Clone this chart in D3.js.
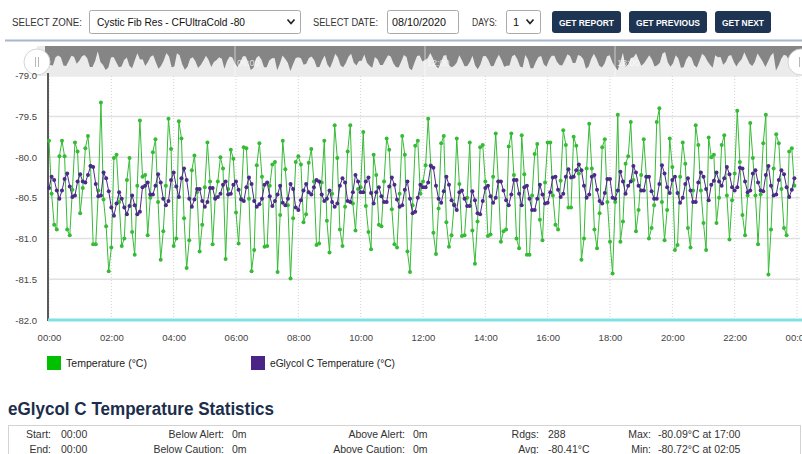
<!DOCTYPE html>
<html>
<head>
<meta charset="utf-8">
<script src="https://cdn.jsdelivr.net/npm/d3@7"></script>
<style>
  body { margin: 0; background: #fff; overflow: hidden; }
  svg { display: block; font-family: 'Liberation Sans', Arial, sans-serif; }
</style>
</head>
<body>
<svg id="page" width="802" height="454"></svg>
<script>
// readings every 5 minutes, 08/10/2020 00:00 -> 23:55 (one row = one hour)
var tempValues = [
  -79.80,-80.45,-80.83,-80.89,-79.99,-79.80,-79.99,-80.89,-80.96,-80.40,-79.82,-79.93,
  -80.69,-80.38,-79.89,-79.74,-80.11,-81.07,-81.07,-80.41,-79.33,-80.52,-80.85,-81.40,
  -81.11,-80.01,-79.97,-80.55,-81.09,-81.00,-80.28,-80.01,-80.92,-81.20,-80.35,-79.55,
  -80.24,-80.22,-80.96,-80.50,-79.94,-79.78,-80.55,-81.26,-80.91,-80.35,-79.53,-79.90,
  -81.09,-81.00,-79.56,-79.77,-80.75,-81.36,-81.02,-80.16,-79.98,-80.43,-81.16,-80.83,
  -80.37,-79.82,-80.30,-81.07,-80.50,-80.30,-80.00,-80.14,-81.25,-80.39,-79.91,-80.02,
  -80.68,-81.06,-80.51,-79.88,-79.89,-80.51,-81.40,-81.14,-80.10,-79.83,-80.24,-81.10,
  -81.09,-80.35,-80.09,-80.06,-81.41,-80.71,-79.80,-80.15,-80.59,-81.49,-80.75,-80.06,
  -79.99,-80.09,-80.80,-80.70,-80.07,-79.90,-80.30,-81.08,-81.06,-80.31,-79.80,-80.78,
  -81.17,-80.45,-79.61,-80.01,-80.89,-81.09,-80.61,-79.93,-79.61,-80.57,-80.90,-80.39,
  -80.37,-79.69,-80.60,-80.92,-81.13,-79.97,-80.22,-80.83,-80.85,-80.30,-79.77,-79.91,
  -80.64,-81.07,-81.11,-80.45,-79.74,-79.97,-81.16,-81.41,-80.59,-79.86,-79.80,-80.45,
  -80.30,-80.10,-79.53,-80.10,-80.93,-81.19,-80.63,-79.83,-79.74,-80.80,-81.10,-80.96,
  -80.58,-79.77,-80.33,-80.97,-80.96,-80.50,-79.82,-80.90,-81.31,-80.79,-79.88,-79.85,
  -80.30,-80.97,-80.95,-80.24,-79.71,-80.30,-81.04,-80.91,-80.89,-79.87,-79.71,-80.22,
  -81.00,-81.12,-79.73,-80.21,-81.20,-81.20,-80.47,-79.96,-79.84,-80.77,-81.02,-80.31,
  -79.82,-79.82,-80.47,-80.83,-80.89,-80.29,-79.67,-79.85,-80.62,-80.62,-79.75,-79.86,
  -80.20,-81.26,-81.00,-80.14,-79.59,-80.14,-80.89,-81.12,-80.69,-79.88,-79.78,-80.55,
  -81.04,-81.43,-80.55,-79.48,-81.04,-80.79,-80.08,-79.99,-79.57,-80.28,-80.91,-80.65,
  -80.22,-79.78,-80.24,-81.00,-80.87,-80.59,-79.57,-79.40,-80.55,-81.02,-80.65,-79.77,
  -80.12,-81.14,-81.08,-80.24,-79.82,-80.08,-80.87,-81.11,-80.41,-79.61,-79.85,-80.41,
  -80.81,-81.14,-79.76,-80.00,-79.97,-80.81,-80.50,-79.85,-79.73,-80.47,-81.01,-80.53,
  -80.20,-79.43,-80.06,-80.71,-80.96,-80.47,-79.58,-80.01,-80.47,-81.07,-80.46,-79.83,
  -79.48,-81.44,-80.89,-80.14,-79.72,-79.83,-80.39,-80.87,-80.96,-79.93,-79.89,-80.35
];

var glycolValues = [
  -80.38,-80.24,-80.28,-80.41,-80.51,-80.41,-80.27,-80.20,-80.36,-80.49,-80.47,-80.30,
  -80.21,-80.30,-80.31,-80.22,-80.11,-80.12,-80.33,-80.48,-80.47,-80.19,-80.26,-80.42,
  -80.62,-80.72,-80.57,-80.43,-80.51,-80.62,-80.70,-80.60,-80.47,-80.59,-80.70,-80.67,
  -80.37,-80.35,-80.31,-80.46,-80.46,-80.35,-80.21,-80.31,-80.51,-80.59,-80.54,-80.28,
  -80.19,-80.36,-80.49,-80.26,-80.14,-80.28,-80.51,-80.61,-80.52,-80.39,-80.39,-80.54,
  -80.61,-80.55,-80.38,-80.38,-80.51,-80.49,-80.45,-80.34,-80.30,-80.46,-80.45,-80.34,
  -80.30,-80.40,-80.52,-80.54,-80.37,-80.25,-80.33,-80.54,-80.61,-80.58,-80.51,-80.34,
  -80.31,-80.48,-80.60,-80.54,-80.46,-80.35,-80.56,-80.59,-80.51,-80.33,-80.39,-80.62,
  -80.65,-80.53,-80.41,-80.33,-80.43,-80.46,-80.37,-80.28,-80.30,-80.46,-80.54,-80.51,
  -80.41,-80.55,-80.61,-80.57,-80.35,-80.26,-80.31,-80.54,-80.55,-80.43,-80.22,-80.30,
  -80.43,-80.43,-80.30,-80.25,-80.44,-80.57,-80.43,-80.37,-80.48,-80.55,-80.55,-80.36,
  -80.25,-80.34,-80.52,-80.61,-80.59,-80.40,-80.30,-80.51,-80.69,-80.67,-80.50,-80.34,
  -80.37,-80.37,-80.31,-80.11,-80.13,-80.35,-80.51,-80.56,-80.42,-80.24,-80.34,-80.53,
  -80.59,-80.65,-80.43,-80.41,-80.51,-80.60,-80.60,-80.42,-80.53,-80.69,-80.70,-80.54,
  -80.38,-80.35,-80.48,-80.56,-80.50,-80.30,-80.30,-80.41,-80.53,-80.59,-80.46,-80.28,
  -80.28,-80.45,-80.59,-80.37,-80.35,-80.51,-80.65,-80.65,-80.51,-80.34,-80.46,-80.57,
  -80.56,-80.43,-80.25,-80.24,-80.40,-80.49,-80.45,-80.24,-80.15,-80.25,-80.24,-80.16,
  -80.09,-80.16,-80.35,-80.50,-80.46,-80.24,-80.22,-80.40,-80.54,-80.57,-80.44,-80.27,
  -80.27,-80.50,-80.51,-80.41,-80.18,-80.30,-80.45,-80.35,-80.30,-80.11,-80.19,-80.35,
  -80.41,-80.41,-80.24,-80.24,-80.42,-80.51,-80.51,-80.33,-80.10,-80.20,-80.37,-80.44,
  -80.28,-80.24,-80.44,-80.56,-80.50,-80.33,-80.26,-80.41,-80.55,-80.55,-80.31,-80.19,
  -80.24,-80.39,-80.53,-80.34,-80.29,-80.19,-80.30,-80.35,-80.26,-80.12,-80.21,-80.37,
  -80.41,-80.37,-80.13,-80.14,-80.30,-80.43,-80.41,-80.20,-80.16,-80.31,-80.41,-80.42,
  -80.22,-80.11,-80.35,-80.47,-80.46,-80.28,-80.16,-80.21,-80.37,-80.49,-80.40,-80.26
];

var yTicks = [-79.0, -79.5, -80.0, -80.5, -81.0, -81.5, -82.0];
var cautionLevel = -82.0;
var seriesNames = ['Temperature (°C)', 'eGlycol C Temperature (°C)'];
var seriesColors = ['#36bb36', '#4b2a88'];
var navLabels = ['06:00', '12:00', '18:00'];

var statLabels = [['Start:', 'End:'], ['Below Alert:', 'Below Caution:'], ['Above Alert:', 'Above Caution:'], ['Rdgs:', 'Avg:'], ['Max:', 'Min:']];
var statValues = [['00:00', '00:00'], ['0m', '0m'], ['0m', '0m'], ['288', '-80.41°C'], ['-80.09°C at 17:00', '-80.72°C at 02:05']];

var svg = d3.select('#page');

var t0 = new Date(2020, 7, 10, 0, 0);
var t1 = new Date(2020, 7, 11, 0, 0);
var timeAt = function (i) { return d3.timeMinute.offset(t0, i * 5); };

// ---------- top bar ----------
var bar = svg.append('g');

function label(g, x, txt, len) {
  g.append('text').attr('x', x).attr('y', 25.5)
    .attr('font-size', 10).attr('fill', '#333')
    .attr('textLength', len).attr('lengthAdjust', 'spacingAndGlyphs')
    .text(txt);
}
function box(g, x, w) {
  g.append('rect').attr('x', x + 0.5).attr('y', 10.5).attr('width', w).attr('height', 23)
    .attr('rx', 2).attr('fill', '#fff').attr('stroke', '#a9a9a9');
}
function chevron(g, x) {
  g.append('path').attr('d', 'M' + (x - 3.5) + ',19.5 L' + x + ',23.5 L' + (x + 3.5) + ',19.5')
    .attr('fill', 'none').attr('stroke', '#222').attr('stroke-width', 1.7);
}

label(bar, 12, 'SELECT ZONE:', 70);
box(bar, 89, 211);
bar.append('text').attr('x', 97).attr('y', 26).attr('font-size', 11).attr('fill', '#111')
  .attr('textLength', 148).attr('lengthAdjust', 'spacingAndGlyphs')
  .text('Cystic Fib Res - CFUltraCold -80');
chevron(bar, 291);

label(bar, 313, 'SELECT DATE:', 65);
box(bar, 387, 71);
bar.append('text').attr('x', 392).attr('y', 26).attr('font-size', 11).attr('fill', '#111')
  .attr('textLength', 54).attr('lengthAdjust', 'spacingAndGlyphs').text('08/10/2020');

label(bar, 472, 'DAYS:', 25);
box(bar, 506, 34);
bar.append('text').attr('x', 513).attr('y', 26).attr('font-size', 11).attr('fill', '#111').text('1');
chevron(bar, 530);

var buttons = [
  {x: 552, w: 69, t: 'GET REPORT', len: 55},
  {x: 629, w: 78, t: 'GET PREVIOUS', len: 64},
  {x: 715, w: 56, t: 'GET NEXT', len: 42}
];
buttons.forEach(function (b) {
  bar.append('rect').attr('x', b.x).attr('y', 11).attr('width', b.w).attr('height', 22)
    .attr('rx', 3).attr('fill', '#1d3552');
  bar.append('text').attr('x', b.x + b.w / 2).attr('y', 25.5).attr('text-anchor', 'middle')
    .attr('font-size', 9.5).attr('font-weight', 'bold').attr('fill', '#fff')
    .attr('textLength', b.len).attr('lengthAdjust', 'spacingAndGlyphs').text(b.t);
});

svg.append('line').attr('x1', 5).attr('x2', 802).attr('y1', 40.5).attr('y2', 40.5)
  .attr('stroke', '#a6b8cc').attr('stroke-width', 2);

// ---------- main scales ----------
var x = d3.scaleTime().domain([t0, t1]).range([49, 797]);
var y = d3.scaleLinear().domain([-82, -79]).range([320, 75.7]);

// gridlines
svg.append('g').selectAll('line')
  .data(yTicks.filter(function (d) { return d !== cautionLevel; }))
  .enter().append('line')
  .attr('x1', 49).attr('x2', 800)
  .attr('y1', function (d) { return y(d); }).attr('y2', function (d) { return y(d); })
  .attr('stroke', '#e1e1e1').attr('stroke-width', 1.5);

var hourTicks = d3.timeHour.every(2).range(t0, d3.timeMinute.offset(t1, 1));
svg.append('g').selectAll('line')
  .data(hourTicks)
  .enter().append('line')
  .attr('x1', function (d) { return x(d); }).attr('x2', function (d) { return x(d); })
  .attr('y1', 76).attr('y2', 320)
  .attr('stroke', '#d2d2d2').attr('stroke-dasharray', '1,2');

// ---------- navigator ----------
var nav = svg.append('g');
nav.append('rect').attr('x', 37).attr('y', 46).attr('width', 765).attr('height', 30).attr('fill', '#ebebeb');

var navX = d3.scaleTime().domain([t0, t1]).range([45, 805]);
var navY = d3.scaleLinear().domain([-81.5, -79.3]).range([71, 51]);
var navArea = d3.area()
  .x(function (d, i) { return navX(timeAt(i)); })
  .y0(46)
  .y1(function (d) { return navY(d); });
nav.append('path').datum(tempValues).attr('d', navArea).attr('fill', '#858585');

nav.selectAll('.navtick').data(navLabels).enter().append('line')
  .attr('x1', function (d, i) { return navX(d3.timeHour.offset(t0, 6 * (i + 1))); })
  .attr('x2', function (d, i) { return navX(d3.timeHour.offset(t0, 6 * (i + 1))); })
  .attr('y1', 46).attr('y2', 76).attr('stroke', '#fff').attr('stroke-opacity', 0.6);
nav.selectAll('.navlabel').data(navLabels).enter().append('text')
  .attr('x', function (d, i) { return navX(d3.timeHour.offset(t0, 6 * (i + 1))) + 2; })
  .attr('y', 66).attr('font-size', 9).attr('fill', '#fff').attr('fill-opacity', 0.75)
  .text(function (d) { return d; });

[37, 801].forEach(function (hx) {
  nav.append('circle').attr('cx', hx).attr('cy', 62).attr('r', 13)
    .attr('fill', '#fff').attr('stroke', '#d5d5d5');
  nav.append('line').attr('x1', hx - 1.5).attr('x2', hx - 1.5).attr('y1', 57).attr('y2', 67)
    .attr('stroke', '#b8b8b8');
  nav.append('line').attr('x1', hx + 1.5).attr('x2', hx + 1.5).attr('y1', 57).attr('y2', 67)
    .attr('stroke', '#b8b8b8');
});

// ---------- axes ----------
var yAxis = d3.axisLeft(y).tickValues(yTicks).tickSize(0).tickPadding(11)
  .tickFormat(function (d) { return d.toFixed(1); });
var gy = svg.append('g').attr('transform', 'translate(48,0)').call(yAxis);
gy.select('.domain').remove();
gy.selectAll('text').attr('font-size', 9.5).attr('fill', '#444')
  .attr('font-family', "'Liberation Sans', Arial, sans-serif");

var xAxis = d3.axisBottom(x).ticks(d3.timeHour.every(2)).tickSize(0).tickPadding(14)
  .tickFormat(d3.timeFormat('%H:%M'));
var gx = svg.append('g').attr('transform', 'translate(0,320)').call(xAxis);
gx.select('.domain').remove();
gx.selectAll('text').attr('font-size', 9.5).attr('fill', '#444')
  .attr('font-family', "'Liberation Sans', Arial, sans-serif");

svg.append('line').attr('x1', 48).attr('x2', 48).attr('y1', 73).attr('y2', 321)
  .attr('stroke', '#5a5a5a').attr('stroke-width', 2);

svg.append('line').attr('x1', 48).attr('x2', 802).attr('y1', y(cautionLevel)).attr('y2', y(cautionLevel))
  .attr('stroke', '#7fe0e6').attr('stroke-width', 3);

// ---------- series ----------
var lineGen = d3.line()
  .x(function (d, i) { return x(timeAt(i)); })
  .y(function (d) { return y(d); });

[tempValues, glycolValues].forEach(function (vals, k) {
  var g = svg.append('g');
  g.append('path').datum(vals).attr('d', lineGen)
    .attr('fill', 'none').attr('stroke', seriesColors[k]).attr('stroke-width', 1);
  g.selectAll('circle').data(vals).enter().append('circle')
    .attr('cx', function (d, i) { return x(timeAt(i)); })
    .attr('cy', function (d) { return y(d); })
    .attr('r', 2)
    .attr('fill', seriesColors[k]);
});

// ---------- legend ----------
var legendX = [47, 251];
var legendLen = [81, 125];
seriesNames.forEach(function (name, k) {
  svg.append('rect').attr('x', legendX[k]).attr('y', 356).attr('width', 14).attr('height', 14)
    .attr('fill', k === 0 ? '#00c000' : '#4b2585');
  svg.append('text').attr('x', legendX[k] + 19).attr('y', 367).attr('font-size', 10.5).attr('fill', '#222')
    .attr('textLength', legendLen[k]).attr('lengthAdjust', 'spacingAndGlyphs').text(name);
});

// ---------- statistics ----------
svg.append('text').attr('x', 8).attr('y', 415).attr('font-size', 18).attr('font-weight', 'bold')
  .attr('fill', '#1b2e4c').attr('textLength', 266).attr('lengthAdjust', 'spacingAndGlyphs')
  .text('eGlycol C Temperature Statistics');

svg.append('rect').attr('x', 8.5).attr('y', 425.5).attr('width', 792).attr('height', 40)
  .attr('fill', '#fff').attr('stroke', '#d3d3d3');

var labelRight = [51, 224, 405, 539, 651];
var valueLeft = [61, 232, 413, 548, 658];
statLabels.forEach(function (col, c) {
  col.forEach(function (t, r) {
    svg.append('text').attr('x', labelRight[c]).attr('y', 438 + r * 15).attr('text-anchor', 'end')
      .attr('font-size', 10.5).attr('fill', '#333').text(t);
    svg.append('text').attr('x', valueLeft[c]).attr('y', 438 + r * 15)
      .attr('font-size', 10.5).attr('fill', '#333').text(statValues[c][r]);
  });
});
</script>
</body>
</html>
